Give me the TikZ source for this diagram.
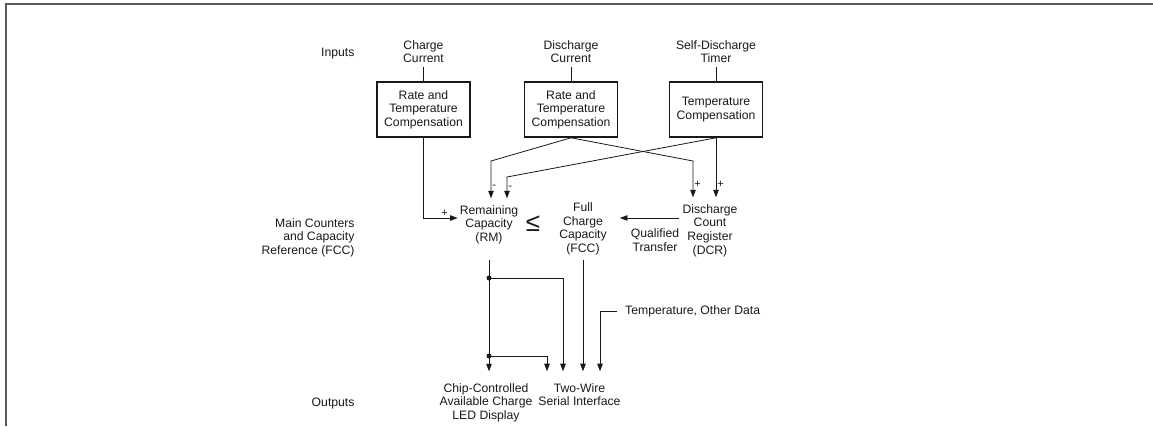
\documentclass[tikz,border=0pt]{standalone}
\usepackage{fontspec}
\setmainfont{Liberation Sans}
\usetikzlibrary{arrows.meta,positioning,calc}
\definecolor{inkblack}{RGB}{25,25,25}
\definecolor{framegray}{RGB}{90,90,90}

\begin{document}
\begin{tikzpicture}[x=1pt,y=-1pt,
  txt/.style={font=\fontsize{12.2}{13.6}\selectfont, align=center, text=inkblack},
  compbox/.style={txt, draw=inkblack, line width=1.6pt, minimum width=93pt, minimum height=55pt, inner sep=2pt},
  wire/.style={draw=inkblack, line width=0.8pt},
  arr/.style={wire, -{Triangle[width=5.5pt,length=7.5pt]}},
  sgn/.style={font=\fontsize{11}{11}\selectfont, text=inkblack, inner sep=1pt},
  jdot/.style={circle, fill=inkblack, inner sep=0pt, minimum size=5pt}]
  % Page frame
  \useasboundingbox (0,0) rectangle (1153,426);
  \draw[framegray, line width=1.2pt] (6,426) -- (6,4) -- (1153,4);

  % Row labels
  \node[txt, anchor=east] (inputs) at (358,53.2) {Inputs};
  \node[txt, anchor=east, align=right] (mainlbl) at (358,237.8) {Main Counters\\and Capacity\\Reference (FCC)};
  \node[txt, anchor=east] (outputs) at (358,403.2) {Outputs};

  % Inputs and compensation boxes
  \node[txt] (chgin) at (423.5,51.8) {Charge\\Current};
  \node[txt] (disin) at (571,51.8) {Discharge\\Current};
  \node[txt] (sdin) at (716,51.8) {Self-Discharge\\Timer};
  \node[compbox] (comp1) at (423.5,109.5) {Rate and\\Temperature\\Compensation};
  \node[compbox] (comp2) at (571,109.5) {Rate and\\Temperature\\Compensation};
  \node[compbox] (comp3) at (716,109.5) {Temperature\\Compensation};
  \draw[wire] (chgin) -- (comp1);
  \draw[wire] (disin) -- (comp2);
  \draw[wire] (sdin) -- (comp3);

  % Main counters
  \node[txt, inner xsep=2pt, inner ysep=7pt] (rm) at (489,224.8) {Remaining\\Capacity\\(RM)};
  \node[txt, font=\fontsize{26}{26}\selectfont] (leq) at (533,223.5) {≤};
  \node[txt, inner xsep=13pt, inner ysep=5pt] (fcc) at (583,228.7) {Full\\Charge\\Capacity\\(FCC)};
  \node[txt, inner xsep=3pt, inner ysep=7pt] (dcr) at (710,230.6) {Discharge\\Count\\Register\\(DCR)};
  \node[txt] (qtlbl) at (655,240) {Qualified\\Transfer};

  % Compensation into counters
  \draw[arr] (comp1.south) |- ($(rm.west)+(0,-6.8)$) node[sgn, pos=0.81, above] (s1) {+};
  \draw[arr] (comp2.south) -- (491,161) -- ($(rm.north)+(2,0)$) node[sgn, pos=0.7, right] (s2) {-};
  \draw[arr] (comp2.south) -- (693,161) -- ($(dcr.north)+(-17,0)$) node[sgn, pos=0.64, right] (s3) {+};
  \draw[arr] (comp3.south) -- (507,177) -- ($(rm.north)+(18,0)$) node[sgn, pos=0.5, right] (s4) {-};
  \draw[arr] (comp3.south) -- ($(dcr.north)+(6,0)$) node[sgn, pos=0.78, right] (s5) {+};

  % Qualified transfer
  \coordinate (qtstart) at ($(dcr.west)+(0,-12.6)$);
  \draw[arr] (qtstart) -- (qtstart -| fcc.east);

  % Outputs
  \node[txt, inner ysep=12pt] (led) at (486,402.8) {Chip-Controlled\\Available Charge\\LED Display};
  \node[txt, inner ysep=12pt] (twowire) at (579.5,394.7) {Two-Wire\\Serial Interface};
  \node[txt, anchor=west, inner xsep=8pt] (tod) at (617,311.5) {Temperature, Other Data};
  \coordinate (j1) at (489,278);
  \coordinate (j2) at (489,356);
  \draw[arr, shorten <=9pt] (rm.south) -- (rm.south |- led.north);
  \draw[arr] (j1) -| ($(twowire.north)+(-16.5,0)$);
  \draw[arr] (j2) -| ($(twowire.north)+(-32.5,0)$);
  \draw[arr] (fcc.south) -- (fcc.south |- twowire.north);
  \draw[arr] (tod.west) -| ($(twowire.north)+(20.5,0)$);
  \node[jdot] (d1) at (j1) {};
  \node[jdot] (d2) at (j2) {};
\end{tikzpicture}
\end{document}
